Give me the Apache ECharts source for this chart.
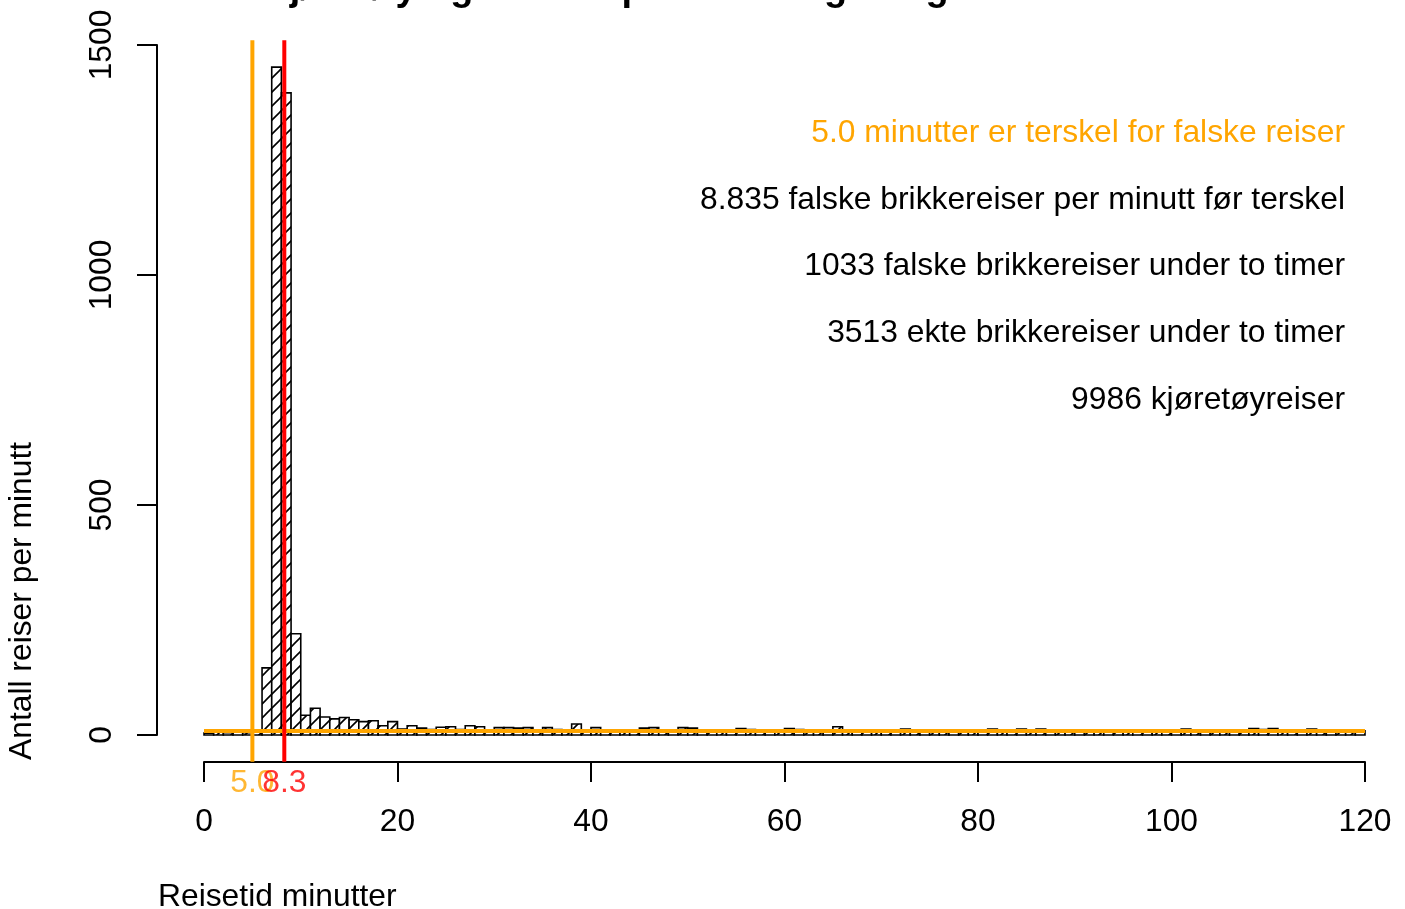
<!DOCTYPE html>
<html><head><meta charset="utf-8">
<script src="https://cdn.jsdelivr.net/npm/echarts@6/dist/echarts.min.js"></script>
<style>html,body{margin:0;padding:0;background:#fff}#c{width:1405px;height:909px}</style>
</head><body><div id="c"></div>
<script>
// Histogram of travel time (minutes), 1-minute bins from 0 to 120
const binWidth = 1;
const counts = [
  4, 6, 5, 7, 5, 8, 146, 1452, 1396, 220,
  43, 58, 39, 35, 38, 33, 29, 31, 20, 29,
  13, 20, 15, 12, 17, 18, 12, 20, 18, 11,
  16, 16, 15, 16, 10, 16, 12, 9, 24, 10,
  16, 9, 8, 10, 9, 15, 16, 8, 10, 16,
  15, 9, 7, 10, 8, 14, 12, 9, 8, 10,
  14, 12, 7, 9, 8, 18, 11, 8, 9, 7,
  10, 8, 13, 9, 7, 8, 10, 9, 6, 8,
  9, 13, 8, 7, 13, 10, 13, 8, 6, 9,
  8, 7, 10, 9, 8, 6, 9, 7, 8, 10,
  9, 13, 8, 7, 9, 6, 8, 10, 14, 12,
  14, 9, 7, 8, 13, 9, 6, 8, 7, 9
];
const binStarts = counts.map((_, i) => i * binWidth);
const xTicks = [0, 20, 40, 60, 80, 100, 120];
const yTicks = [0, 500, 1000, 1500];
const thresholdMin = 5.0;      // orange vertical line
const medianMin = 8.3;         // red vertical line
const falsePerMinute = 8.835;  // orange horizontal line
const plotYLow = -58.08, plotYHigh = 1510.08; // R plot region extent (ylim with 4% padding)
const notes = [
  { text: '5.0 minutter er terskel for falske reiser', color: '#FFA500' },
  { text: '8.835 falske brikkereiser per minutt før terskel', color: '#000000' },
  { text: '1033 falske brikkereiser under to timer', color: '#000000' },
  { text: '3513 ekte brikkereiser under to timer', color: '#000000' },
  { text: '9986 kjøretøyreiser', color: '#000000' }
];
const titleText = 'Reisetid for kjøretøy og brikker på strekningen og falske brikkereiser i bomsnittet';
const xName = 'Reisetid minutter';
const yName = 'Antall reiser per minutt';

const FONT = '"Liberation Sans", Arial, Helvetica, sans-serif';
const FS = 31.8;

// hatch pattern (diagonal lines "/")
const hc = document.createElement('canvas');
const HS = 14;
hc.width = HS; hc.height = HS;
const g = hc.getContext('2d');
g.fillStyle = '#fff'; g.fillRect(0, 0, HS, HS);
g.strokeStyle = '#000'; g.lineWidth = 1.6;
g.beginPath();
g.moveTo(-1, HS + 1); g.lineTo(HS + 1, -1);
g.moveTo(-1, 1); g.lineTo(1, -1);
g.moveTo(HS - 1, HS + 1); g.lineTo(HS + 1, HS - 1);
g.stroke();
const hatch = { image: hc, repeat: 'repeat' };

const chart = echarts.init(document.getElementById('c'), null, { renderer: 'canvas' });

const option = {
  animation: false,
  backgroundColor: '#fff',
  grid: { left: 204, right: 40, top: 45, bottom: 174, containLabel: false },
  xAxis: {
    type: 'value', min: xTicks[0], max: xTicks[xTicks.length - 1], interval: 20,
    offset: 27,
    axisLine: { show: true, onZero: false, lineStyle: { color: '#000', width: 2 } },
    axisTick: { show: true, length: 20, inside: false, lineStyle: { color: '#000', width: 2 } },
    axisLabel: { show: true, margin: 44, color: '#000', fontSize: FS, fontFamily: FONT, formatter: v => String(v) },
    splitLine: { show: false }
  },
  yAxis: {
    type: 'value', min: yTicks[0], max: yTicks[yTicks.length - 1], interval: 500,
    offset: 47,
    axisLine: { show: true, onZero: false, lineStyle: { color: '#000', width: 2 } },
    axisTick: { show: true, length: 20, inside: false, lineStyle: { color: '#000', width: 2 } },
    axisLabel: { show: true, rotate: 90, margin: 39, color: '#000', fontSize: FS, fontFamily: FONT, formatter: v => String(v) },
    splitLine: { show: false }
  },
  series: [
    {
      type: 'custom',
      data: binStarts.map((s, i) => [s, counts[i]]),
      encode: { x: 0, y: 1 },
      renderItem: function (params, api) {
        const x0 = api.value(0), v = api.value(1);
        const a = api.coord([x0, 0]);
        const b = api.coord([x0 + binWidth, v]);
        return {
          type: 'rect',
          shape: { x: a[0], y: b[1], width: b[0] - a[0], height: a[1] - b[1] },
          style: { fill: hatch, stroke: '#000', lineWidth: 1.6 }
        };
      },
      z: 1
    },
    {
      type: 'line', clip: false, symbol: 'none', silent: true,
      data: [[xTicks[0], falsePerMinute], [xTicks[xTicks.length - 1], falsePerMinute]],
      lineStyle: { color: '#FFA500', width: 4 }, z: 3
    },
    {
      type: 'line', clip: false, symbol: 'none', silent: true,
      data: [[thresholdMin, plotYHigh], [thresholdMin, plotYLow]],
      lineStyle: { color: '#FFA500', width: 4 }, z: 4
    },
    {
      type: 'line', clip: false, symbol: 'none', silent: true,
      data: [[medianMin, plotYHigh], [medianMin, plotYLow]],
      lineStyle: { color: '#FF0000', width: 4 }, z: 5
    },
    {
      type: 'scatter', clip: false, symbolSize: 0, silent: true,
      data: [[thresholdMin, plotYLow]],
      label: { show: true, position: 'bottom', distance: 6, formatter: p => p.value[0].toFixed(1),
        color: '#FFA500', fontSize: FS, fontFamily: FONT }, z: 6
    },
    {
      type: 'scatter', clip: false, symbolSize: 0, silent: true,
      data: [[medianMin, plotYLow]],
      label: { show: true, position: 'bottom', distance: 6, formatter: p => p.value[0].toFixed(1),
        color: '#FF0000', fontSize: FS, fontFamily: FONT }, z: 7
    }
  ],
  graphic: [
    { type: 'text', x: 784, y: 9, style: { text: titleText, font: 'bold 38px ' + FONT, fill: '#000', align: 'center', verticalAlign: 'bottom' } },
    { type: 'text', x: 158, y: 897, style: { text: xName, font: FS + 'px ' + FONT, fill: '#000', align: 'left', verticalAlign: 'middle' } },
    { type: 'text', x: 22, y: 760, rotation: Math.PI / 2, style: { text: yName, font: FS + 'px ' + FONT, fill: '#000', align: 'left', verticalAlign: 'middle' } }
  ].concat(notes.map((n, i) => ({
    type: 'text', x: 1345, y: 133 + i * 66.75,
    style: { text: n.text, font: FS + 'px ' + FONT, fill: n.color, align: 'right', verticalAlign: 'middle' }
  })))
};
chart.setOption(option);
</script>
</body></html>
